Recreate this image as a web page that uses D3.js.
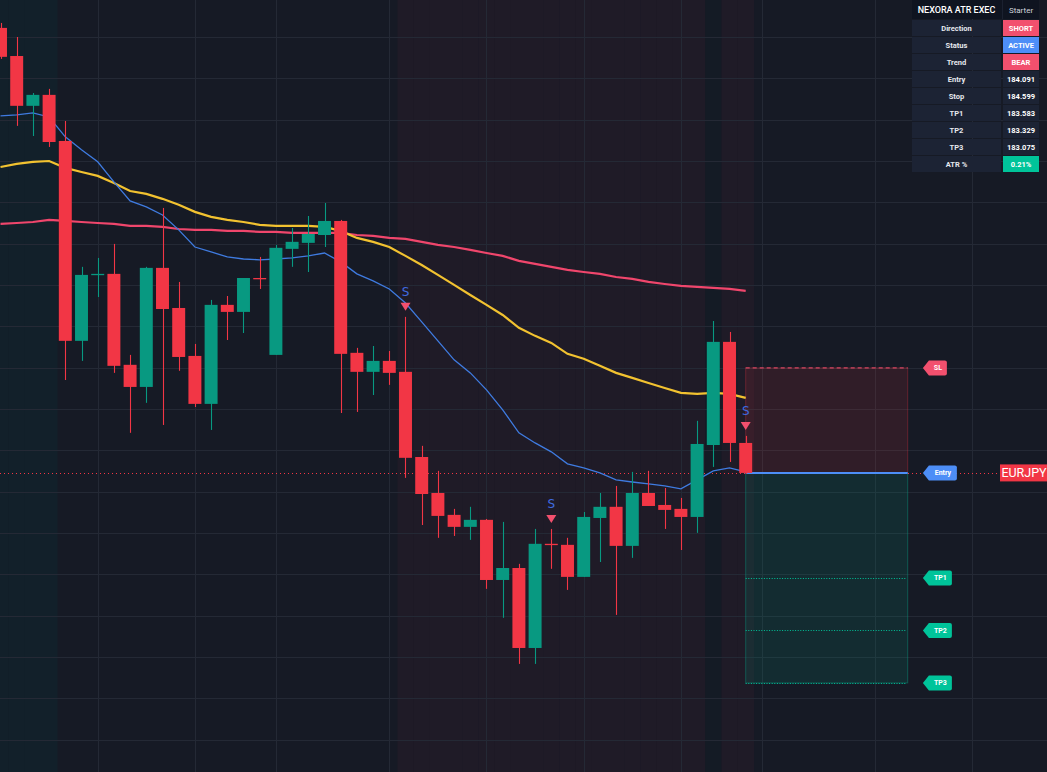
<!DOCTYPE html>
<html><head><meta charset="utf-8">
<script src="https://cdn.jsdelivr.net/npm/d3@7/dist/d3.min.js"></script>
<style>html,body{margin:0;padding:0;background:#161a25;overflow:hidden}svg{display:block}</style>
</head><body><svg id="chart" width="1047" height="772"></svg>
<script>
// ---- DATA ----
const opens  = [186.244,186.108,185.867,185.920,185.697,184.730,185.049,185.054,184.614,184.507,185.083,184.889,184.657,184.425,184.904,184.870,185.034,184.662,185.175,185.204,185.242,185.310,184.672,184.580,184.633,184.580,184.168,183.994,183.888,183.830,183.864,183.573,183.631,183.244,183.748,183.743,183.588,183.873,183.927,183.738,183.994,183.936,183.917,183.878,184.226,184.725,184.236];
const highs  = [186.268,186.200,185.929,185.949,185.794,185.088,185.131,185.199,184.662,185.088,185.373,185.015,184.715,184.928,184.947,185.034,185.136,185.194,185.276,185.334,185.397,185.315,184.696,184.705,184.681,184.846,184.222,184.101,183.917,183.927,183.868,183.854,183.651,183.820,183.820,183.777,183.902,183.994,184.028,184.096,184.101,184.018,183.970,184.343,184.826,184.773,184.270];
const lows   = [186.094,185.770,185.721,185.668,184.541,184.633,184.942,184.575,184.285,184.430,184.323,184.585,184.410,184.299,184.734,184.768,184.981,184.662,185.088,185.063,185.184,184.381,184.386,184.468,184.517,184.067,183.839,183.777,183.786,183.767,183.530,183.390,183.167,183.167,183.627,183.525,183.588,183.660,183.404,183.680,183.931,183.820,183.718,183.801,184.120,184.144,184.086];
const closes = [186.104,185.867,185.920,185.692,184.730,185.049,185.054,184.609,184.507,185.083,184.884,184.652,184.425,184.904,184.870,185.034,185.030,185.180,185.209,185.247,185.310,184.667,184.580,184.633,184.575,184.164,183.989,183.883,183.830,183.864,183.573,183.631,183.244,183.748,183.743,183.588,183.878,183.927,183.738,183.994,183.931,183.912,183.878,184.231,184.725,184.236,184.091];

const emaFast = [185.818,185.823,185.833,185.813,185.717,185.654,185.596,185.499,185.407,185.378,185.339,185.267,185.184,185.160,185.136,185.126,185.122,185.126,185.131,185.141,185.155,185.112,185.054,185.020,184.981,184.913,184.822,184.730,184.638,184.575,184.493,184.396,184.285,184.236,184.193,184.135,184.115,184.091,184.057,184.047,184.038,184.028,184.014,184.057,184.101,184.115,184.096];
const emaMid  = [185.571,185.586,185.596,185.600,185.567,185.547,185.528,185.494,185.455,185.441,185.417,185.388,185.354,185.330,185.315,185.305,185.291,185.286,185.286,185.286,185.281,185.262,185.228,185.209,185.184,185.141,185.097,185.049,185.001,184.952,184.904,184.855,184.793,184.754,184.720,184.667,184.643,184.609,184.575,184.551,184.526,184.502,184.478,184.473,184.478,184.473,184.454];
const emaSlow = [185.296,185.300,185.305,185.315,185.310,185.305,185.300,185.296,185.286,185.286,185.281,185.271,185.267,185.267,185.262,185.262,185.257,185.257,185.252,185.252,185.252,185.252,185.242,185.238,185.228,185.223,185.209,185.194,185.184,185.170,185.155,185.141,185.117,185.102,185.088,185.073,185.063,185.054,185.039,185.030,185.015,185.005,184.996,184.991,184.986,184.981,184.972];

const regimes = ["bull","bull","bull","bull",
  "none","none","none","none","none","none","none","none","none","none","none","none","none","none","none","none","none","none","none","none","none",
  "bear","bear","bear","bear","bear","bear","bear","bear","bear","bear","bear","bear","bear","bear","bear","bear","bear","bear","bear",
  "neutral","bear","bear"];

const signalBars = [25, 34, 46];
const timeGridBars = [6, 12, 17, 24, 30, 36, 42, 47, 54, 60];

const levelNames  = ["SL", "Entry", "TP1", "TP2", "TP3"];
const levelPrices = [184.599, 184.091, 183.583, 183.329, 183.075];
const tradeStartBar = 46, tradeEndBar = 56, labelBar = 57;
const symbolName = "EURJPY";

const tableTitle = ["NEXORA ATR EXEC", "Starter"];
const tableLabels = ["Direction","Status","Trend","Entry","Stop","TP1","TP2","TP3","ATR %"];
const tableValues = ["SHORT","ACTIVE","BEAR","184.091","184.599","183.583","183.329","183.075","0.21%"];
const tableValueKinds = ["bear","active","bear","","","","","","good"];

// ---- STYLE ----
const W = 1047, H = 772;
const C = {
  bg:"#161a25", grid:"#242935",
  bull:"#12202a", bear:"#1f1b27", neutral:"#141b25",
  up:"#089981", down:"#f23645",
  fast:"#3f7be0", mid:"#f2c230", slow:"#f0466c",
  sig:"#3f6be0", tri:"#f2506e",
  sl:"#f2506e", entry:"#4d8ef7", tp:"#00c49a"
};
const font = "Roboto, 'Open Sans', sans-serif";

const svg = d3.select("#chart");
const x = d3.scaleLinear().domain([-0.5, 46.5]).range([-7.6, 753.8]);
const y = d3.scaleLinear().domain([182.644, 186.379]).range([H, 0]);
const step = x(1) - x(0);
const bw = step * 0.8;
const idx = d3.range(opens.length);

svg.append("rect").attr("width", W).attr("height", H).attr("fill", C.bg);

// regime background bands
svg.append("g").selectAll("rect").data(idx.filter(i => regimes[i] !== "none")).join("rect")
  .attr("x", i => x(i - 0.5)).attr("width", step + 0.3)
  .attr("y", 0).attr("height", H)
  .attr("fill", i => C[regimes[i]]);

// grid
const g = svg.append("g").attr("stroke", C.grid).attr("stroke-width", 1);
g.selectAll(".h").data(y.ticks(18)).join("line")
  .attr("x1", 0).attr("x2", W)
  .attr("y1", d => Math.round(y(d)) + 0.5).attr("y2", d => Math.round(y(d)) + 0.5);
g.selectAll(".v").data(timeGridBars).join("line")
  .attr("y1", 0).attr("y2", H)
  .attr("x1", d => Math.round(x(d)) + 0.5).attr("x2", d => Math.round(x(d)) + 0.5);

// trade zones
const [slP, enP, tp1P, tp2P, tp3P] = levelPrices;
const bx0 = x(tradeStartBar), bx1 = x(tradeEndBar);
svg.append("rect").attr("x", bx0).attr("width", bx1 - bx0)
  .attr("y", y(slP)).attr("height", y(enP) - y(slP))
  .attr("fill", C.down).attr("fill-opacity", 0.12)
  .attr("stroke", C.down).attr("stroke-opacity", 0.3).attr("stroke-width", 1);
svg.append("rect").attr("x", bx0).attr("width", bx1 - bx0)
  .attr("y", y(enP)).attr("height", y(tp3P) - y(enP))
  .attr("fill", C.up).attr("fill-opacity", 0.14)
  .attr("stroke", C.up).attr("stroke-opacity", 0.45).attr("stroke-width", 1);

// last price dotted line
svg.append("line").attr("x1", 0).attr("x2", 1000)
  .attr("y1", Math.round(y(closes[closes.length-1])) + 0.5).attr("y2", Math.round(y(closes[closes.length-1])) + 0.5)
  .attr("stroke", C.down).attr("stroke-width", 1).attr("stroke-dasharray", "1,3");

// EMA lines
const line = arr => d3.line().x((d, i) => x(i)).y(d => y(d))(arr);
svg.append("path").attr("d", line(emaSlow)).attr("fill", "none").attr("stroke", C.slow).attr("stroke-width", 2.2);
svg.append("path").attr("d", line(emaMid)).attr("fill", "none").attr("stroke", C.mid).attr("stroke-width", 2.2);
svg.append("path").attr("d", line(emaFast)).attr("fill", "none").attr("stroke", C.fast).attr("stroke-width", 1.3);

// level lines
svg.append("line").attr("x1", bx0).attr("x2", bx1).attr("y1", y(slP)).attr("y2", y(slP))
  .attr("stroke", C.sl).attr("stroke-width", 1).attr("stroke-dasharray", "4,3");
svg.append("line").attr("x1", bx0).attr("x2", bx1).attr("y1", y(enP)).attr("y2", y(enP))
  .attr("stroke", C.entry).attr("stroke-width", 2);
svg.selectAll(".tpl").data([tp1P, tp2P, tp3P]).join("line")
  .attr("x1", bx0).attr("x2", bx1 - 2).attr("y1", d => Math.round(y(d)) + 0.5).attr("y2", d => Math.round(y(d)) + 0.5)
  .attr("stroke", C.tp).attr("stroke-width", 1).attr("stroke-dasharray", "1,1.6");

// candles
const cg = svg.append("g");
cg.selectAll(".w").data(idx).join("line")
  .attr("x1", i => Math.round(x(i)) + 0.5).attr("x2", i => Math.round(x(i)) + 0.5)
  .attr("y1", i => y(highs[i])).attr("y2", i => y(lows[i]))
  .attr("stroke", i => closes[i] >= opens[i] ? C.up : C.down).attr("stroke-width", 1.1);
cg.selectAll(".b").data(idx).join("rect")
  .attr("x", i => x(i) - bw / 2).attr("width", bw)
  .attr("y", i => y(Math.max(opens[i], closes[i])))
  .attr("height", i => Math.max(1.3, Math.abs(y(opens[i]) - y(closes[i]))))
  .attr("fill", i => closes[i] >= opens[i] ? C.up : C.down);

// signals
const sg = svg.append("g");
sg.selectAll("path").data(signalBars).join("path")
  .attr("d", i => { const cx = x(i), hy = y(highs[i]); return `M${cx-5},${hy-14}L${cx+5},${hy-14}L${cx},${hy-6}Z`; })
  .attr("fill", C.tri);
sg.selectAll("text").data(signalBars).join("text")
  .attr("x", i => x(i)).attr("y", i => y(highs[i]) - 21)
  .attr("text-anchor", "middle").attr("font-family", "'DejaVu Sans', sans-serif").attr("font-size", 12)
  .attr("fill", C.sig).text("S");

// level tags
const tagW = [19, 29, 24, 24, 24];
const tagC = [C.sl, C.entry, C.tp, C.tp, C.tp];
const lx = x(labelBar) - 1;
levelPrices.forEach((p, k) => {
  const cy = y(p), w = tagW[k];
  svg.append("path")
    .attr("d", `M${lx},${cy}L${lx+6},${cy-7.5}L${lx+w+3},${cy-7.5}Q${lx+w+5},${cy-7.5} ${lx+w+5},${cy-5.5}L${lx+w+5},${cy+5.5}Q${lx+w+5},${cy+7.5} ${lx+w+3},${cy+7.5}L${lx+6},${cy+7.5}Z`)
    .attr("fill", tagC[k]);
  svg.append("text").attr("x", lx + 6 + (w - 1) / 2).attr("y", cy + 2.5)
    .attr("text-anchor", "middle").attr("font-family", font).attr("font-weight", "bold")
    .attr("font-size", 7).attr("fill", "#ffffff").text(levelNames[k]);
});

// symbol label
const ly = y(enP);
svg.append("rect").attr("x", 1000).attr("y", ly - 8.5).attr("width", 47).attr("height", 17).attr("fill", C.down);
svg.append("text").attr("x", 1024).attr("y", ly + 4.5).attr("text-anchor", "middle")
  .attr("font-family", font).attr("font-size", 12.5).attr("fill", "#ffffff").text(symbolName);

// table
const tb = svg.append("g").attr("font-family", font).attr("text-anchor", "middle");
const c1x = 912, c1w = 89, c2x = 1003, c2w = 36;
tb.append("rect").attr("x", c1x).attr("y", 0).attr("width", c2x + c2w - c1x).attr("height", 19).attr("fill", "#0f1420");
tb.append("rect").attr("x", c2x - 1).attr("y", 0).attr("width", 1).attr("height", 19).attr("fill", "#1b2130");
tb.append("text").attr("x", c1x + c1w / 2).attr("y", 12.5).attr("font-size", 9).attr("font-weight", 500)
  .attr("fill", "#ffffff").text(tableTitle[0]);
tb.append("text").attr("x", c2x + c2w / 2).attr("y", 12.5).attr("font-size", 8)
  .attr("fill", "#d1d4dc").text(tableTitle[1]);
const kindFill = {bear: "#f2506e", active: "#4d8ef7", good: "#00c49a", "": "#1c2334"};
tableLabels.forEach((lab, k) => {
  const ry = 20 + 17 * k;
  tb.append("rect").attr("x", c1x).attr("y", ry).attr("width", c1w).attr("height", 16).attr("fill", "#1c2334");
  tb.append("rect").attr("x", c2x).attr("y", ry).attr("width", c2w).attr("height", 16).attr("fill", kindFill[tableValueKinds[k]]);
  tb.append("text").attr("x", c1x + c1w / 2).attr("y", ry + 10.8).attr("font-size", 7.5).attr("font-weight", "bold")
    .attr("fill", "#e6e8ee").text(lab);
  tb.append("text").attr("x", c2x + c2w / 2).attr("y", ry + 10.8).attr("font-size", 7.5).attr("font-weight", "bold")
    .attr("fill", "#ffffff").text(tableValues[k]);
});
</script></body></html>
